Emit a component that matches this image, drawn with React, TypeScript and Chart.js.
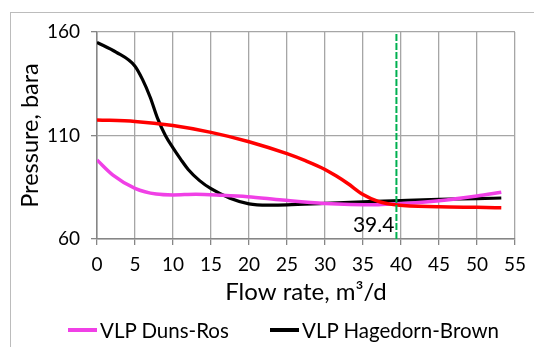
import React, { useEffect, useRef } from "react";
import { Chart, registerables } from "chart.js";

Chart.register(...registerables);

// Duns-Ros VLP curve
const dunsRosRates = [0, 2.1, 5, 7.8, 10, 13, 16.5, 19.8, 24.4, 30, 37, 40, 45, 50, 53.2];
const dunsRosPressures = [98.2, 90.9, 84.5, 81.7, 81.3, 81.6, 81.1, 80.4, 78.8, 77.2, 76.6, 77.1, 78.5, 80.8, 82.6];

// Hagedorn-Brown VLP curve
const hagedornRates = [0, 2.5, 5, 6, 7, 8, 9, 10, 11, 12, 13.5, 15, 17.5, 20, 22.5, 25, 30, 35, 40, 45, 50, 53.2];
const hagedornPressures = [155, 150.3, 143.5, 137, 128.5, 118, 110, 104, 98.6, 93.6, 88.2, 84.3, 79.7, 77, 76.4, 76.5, 77.2, 77.9, 78.6, 79.2, 79.5, 79.8];

// IPR curve (not in legend)
const iprRates = [0, 5, 10, 15, 20, 25, 27.5, 30, 31.5, 33, 35, 37, 39.5, 45, 50, 53.2];
const iprPressures = [117.5, 116.8, 114.8, 111.5, 107, 101.2, 97.7, 93.6, 90.4, 86.8, 81.5, 78.2, 76.4, 75.6, 75.3, 75.1];

// Operating point marker
const operatingRate = 39.4;
const operatingLabel = "39.4";

const xTickMin = 0;
const xTickMax = 55;
const xTickStep = 5;
const yTickMin = 60;
const yTickMax = 160;
const yTickStep = 50;

const legendItems = [
  { label: "VLP Duns-Ros", color: "#f040e6" },
  { label: "VLP Hagedorn-Brown", color: "#000000" },
];

const FONT = "Lato, 'Open Sans', sans-serif";

function toPoints(xs: number[], ys: number[]) {
  return xs.map((x, i) => ({ x, y: ys[i] }));
}

const labelPlugin = {
  id: "opLabel",
  afterDatasetsDraw(chart: any) {
    const { ctx, scales } = chart;
    const x = scales.x.getPixelForValue(operatingRate);
    const y = scales.y.getPixelForValue(66.5);
    ctx.save();
    ctx.font = `21px ${FONT}`;
    ctx.fillStyle = "#000";
    ctx.textAlign = "right";
    ctx.textBaseline = "middle";
    ctx.fillText(operatingLabel, x - 2, y);
    ctx.restore();
  },
};

export default function App() {
  const canvasRef = useRef<HTMLCanvasElement | null>(null);

  useEffect(() => {
    if (!canvasRef.current) return;
    const chart = new Chart(canvasRef.current, {
      type: "line",
      data: {
        datasets: [
          {
            label: "Operating point",
            data: [
              { x: operatingRate, y: yTickMin },
              { x: operatingRate, y: yTickMax },
            ],
            borderColor: "#00b050",
            borderWidth: 2,
            borderDash: [7, 2],
            pointRadius: 0,
          },
          {
            label: "IPR",
            data: toPoints(iprRates, iprPressures),
            borderColor: "#ff0000",
            borderWidth: 3.5,
            pointRadius: 0,
            cubicInterpolationMode: "monotone",
          },
          {
            label: legendItems[0].label,
            data: toPoints(dunsRosRates, dunsRosPressures),
            borderColor: legendItems[0].color,
            borderWidth: 3.5,
            pointRadius: 0,
            cubicInterpolationMode: "monotone",
          },
          {
            label: legendItems[1].label,
            data: toPoints(hagedornRates, hagedornPressures),
            borderColor: legendItems[1].color,
            borderWidth: 3.2,
            pointRadius: 0,
            cubicInterpolationMode: "monotone",
          },
        ],
      },
      options: {
        animation: false,
        responsive: false,
        maintainAspectRatio: false,
        layout: { padding: { left: 0, top: 32, right: 17, bottom: 0 } },
        plugins: {
          legend: { display: false },
          tooltip: { enabled: false },
        },
        scales: {
          x: {
            type: "linear",
            min: xTickMin,
            max: xTickMax,
            ticks: {
              stepSize: xTickStep,
              color: "#000",
              font: { family: FONT, size: 19 },
              padding: 8,
              maxRotation: 0,
            },
            grid: { color: "#a6a6a6", lineWidth: 1.3, tickLength: 6, tickColor: "#868686" },
            border: { color: "#868686", width: 1.5 },
            title: {
              display: true,
              text: "Flow rate, m³/d",
              color: "#000",
              font: { family: FONT, size: 24 },
              padding: { top: 0, bottom: 40 },
            },
            afterFit(scale: any) {
              scale.height = 347 - 239;
            },
          },
          y: {
            type: "linear",
            min: yTickMin,
            max: yTickMax,
            ticks: {
              stepSize: yTickStep,
              color: "#000",
              font: { family: FONT, size: 19 },
              padding: 11,
            },
            grid: { color: "#a6a6a6", lineWidth: 1.3, tickLength: 6, tickColor: "#868686" },
            border: { color: "#868686", width: 1.5 },
            title: {
              display: true,
              text: "Pressure, bara",
              color: "#000",
              font: { family: FONT, size: 23.5 },
              padding: { top: 16, bottom: 0 },
            },
            afterFit(scale: any) {
              scale.width = 97;
            },
          },
        },
      },
      plugins: [labelPlugin],
    } as any);
    return () => chart.destroy();
  }, []);

  return (
    <div
      style={{
        position: "fixed",
        left: 0,
        top: 0,
        width: 534,
        height: 347,
        overflow: "hidden",
        background: "#fff",
      }}
    >
      <div
        style={{
          position: "absolute",
          left: 10,
          top: 12,
          width: 700,
          height: 500,
          border: "1px solid #bcbcbc",
        }}
      />
      <canvas
        ref={canvasRef}
        width={534}
        height={347}
        style={{ position: "absolute", left: 0, top: 0, width: 534, height: 347 }}
      />
      {legendItems.map((item, i) => (
        <div
          key={item.label}
          style={{
            position: "absolute",
            left: i === 0 ? 68 : 270,
            top: 317,
            height: 26,
            display: "flex",
            alignItems: "center",
            fontFamily: FONT,
            fontSize: 20.5,
            color: "#000",
            whiteSpace: "nowrap",
          }}
        >
          <span
            style={{
              display: "inline-block",
              width: 29,
              height: 3.5,
              background: item.color,
              marginRight: 3,
            }}
          />
          <span>{item.label}</span>
        </div>
      ))}
    </div>
  );
}
